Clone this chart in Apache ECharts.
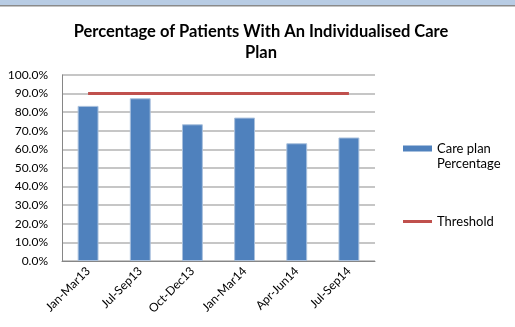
<!DOCTYPE html>
<html><head><meta charset="utf-8">
<script src="https://cdn.jsdelivr.net/npm/echarts@6/dist/echarts.min.js"></script>
<style>html,body{margin:0;padding:0;background:#fff}#c{width:515px;height:327px}</style>
</head><body><div id="c"></div>
<script>
const categories = ['Jan-Mar13','Jul-Sep13','Oct-Dec13','Jan-Mar14','Apr-Jun14','Jul-Sep14'];
const carePlanPct = [83.4, 87.5, 73.5, 77.1, 63.3, 66.4];
const threshold = [90, 90, 90, 90, 90, 90];
const yTicks = [0,10,20,30,40,50,60,70,80,90,100];

const FONT = 'Lato';
const chart = echarts.init(document.getElementById('c'), null, {renderer:'canvas'});
chart.setOption({
  animation:false,
  graphic:[
    {type:'rect', shape:{x:0,y:0,width:515,height:6}, style:{fill:'#b8cce4'}, silent:true},
    {type:'rect', shape:{x:0,y:5,width:515,height:1.5}, style:{fill:'#8a8a8a'}, silent:true}
  ],
  title:{
    text:'Percentage of Patients With An Individualised Care\nPlan',
    left:256, top:16, textAlign:'center',
    textStyle:{fontFamily:FONT, fontWeight:'bold', fontSize:16.5, color:'#000', lineHeight:21}
  },
  grid:{left:62, right:140, top:75, bottom:66, containLabel:false},
  legend:[{
    orient:'vertical', left:403, top:126, padding:0,
    itemWidth:29, itemHeight:6,
    data:[{name:'Care plan Percentage', icon:'rect'}],
    itemStyle:{borderWidth:0},
    formatter:() => '{b| }\n{a|Care plan}\n{a|Percentage}',
    textStyle:{fontFamily:FONT, fontSize:13, color:'#000', lineHeight:15,
      rich:{a:{fontFamily:FONT, fontSize:13, lineHeight:15, color:'#000'}, b:{lineHeight:15, fontSize:13}}}
  },{
    orient:'vertical', left:403, top:214, padding:0,
    itemWidth:29, itemHeight:3,
    data:[{name:'Threshold', icon:'rect'}],
    itemStyle:{borderWidth:0},
    textStyle:{fontFamily:FONT, fontSize:13, color:'#000', lineHeight:15}
  }],
  xAxis:{
    type:'category', data:categories, boundaryGap:true,
    axisLine:{lineStyle:{color:'#868686', width:1}},
    axisTick:{show:false},
    axisLabel:{rotate:45, fontFamily:FONT, fontSize:12, color:'#000', margin:8, interval:0}
  },
  yAxis:{
    type:'value', min:0, max:100, interval:10,
    axisLine:{show:true, lineStyle:{color:'#868686', width:1}},
    axisTick:{show:false},
    splitLine:{lineStyle:{color:'#b3b3b3', width:1.5}},
    axisLabel:{fontFamily:FONT, fontSize:12, color:'#000', margin:14,
      formatter:v => yTicks.includes(v) ? v.toFixed(1)+'%' : ''}
  },
  series:[
    {name:'Care plan Percentage', type:'bar', data:carePlanPct, barWidth:'40%',
     itemStyle:{color:'#4f81bd', borderColor:'#a9c0dd', borderWidth:1}},
    {name:'Threshold', type:'line', data:threshold, symbol:'none',
     lineStyle:{color:'#c0504d', width:3}, itemStyle:{color:'#c0504d'}}
  ]
});
</script></body></html>
